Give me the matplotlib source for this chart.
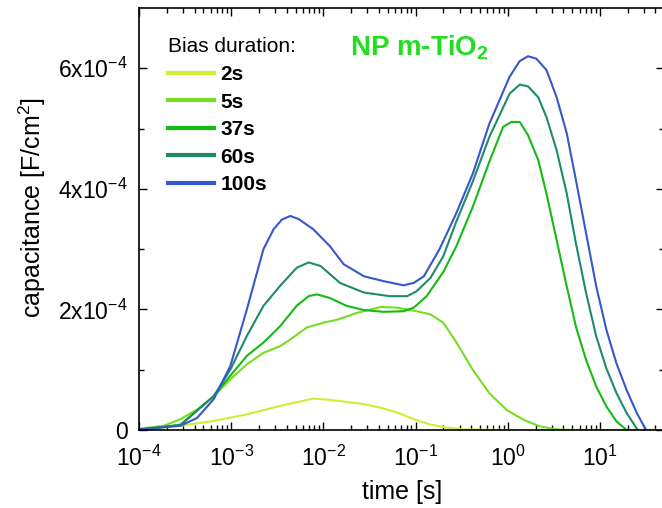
import matplotlib
matplotlib.use('Agg')
import numpy as np
import matplotlib.pyplot as plt
from matplotlib.ticker import FixedLocator, FixedFormatter, LogLocator, NullFormatter

plt.rcParams['font.family'] = ['Liberation Sans', 'DejaVu Sans']
plt.rcParams['mathtext.fontset'] = 'custom'
plt.rcParams['mathtext.rm'] = 'Liberation Sans'
plt.rcParams['mathtext.it'] = 'Liberation Sans:italic'
plt.rcParams['mathtext.bf'] = 'Liberation Sans:bold'
plt.rcParams['mathtext.default'] = 'regular'

# log10 of time [s] and capacitance in units of 1e-4 F/cm^2
logt_2s = [-4.0, -3.55, -3.19, -2.83, -2.47, -2.29, -2.11, -1.93, -1.56, -1.38,
           -1.20, -1.02, -0.84, -0.66, -0.48, 0.0, 1.0, 1.6]
cap_2s = [0.0, 0.07, 0.15, 0.26, 0.40, 0.46, 0.52, 0.50, 0.43, 0.37,
          0.29, 0.18, 0.09, 0.04, 0.01, 0.0, 0.0, 0.0]

logt_5s = [-4.0, -3.73, -3.55, -3.37, -3.19, -3.01, -2.83, -2.65, -2.47, -2.36,
           -2.18, -2.0, -1.85, -1.64, -1.38, -1.20, -0.99, -0.84, -0.70, -0.56,
           -0.38, -0.20, -0.01, 0.17, 0.35, 0.53, 0.71, 1.6]
cap_5s = [0.02, 0.07, 0.18, 0.34, 0.56, 0.84, 1.09, 1.28, 1.39, 1.50,
          1.70, 1.78, 1.83, 1.94, 2.04, 2.03, 1.97, 1.92, 1.78, 1.46,
          1.00, 0.61, 0.33, 0.17, 0.06, 0.01, 0.0, 0.0]

logt_37s = [-4.0, -3.55, -3.19, -3.01, -2.83, -2.65, -2.47, -2.29, -2.16, -2.07,
            -1.93, -1.75, -1.56, -1.35, -1.13, -1.02, -0.88, -0.70, -0.56, -0.38,
            -0.20, -0.05, 0.04, 0.13, 0.22, 0.33, 0.42, 0.53, 0.64, 0.74,
            0.85, 0.96, 1.07, 1.18, 1.29]
cap_37s = [0.0, 0.09, 0.56, 0.90, 1.23, 1.45, 1.72, 2.06, 2.22, 2.25,
           2.19, 2.06, 1.99, 1.96, 1.97, 2.03, 2.22, 2.62, 3.04, 3.70,
           4.45, 5.03, 5.11, 5.11, 4.89, 4.48, 3.92, 3.15, 2.38, 1.71,
           1.16, 0.72, 0.39, 0.14, 0.0]

logt_60s = [-4.0, -3.55, -3.19, -3.01, -2.83, -2.65, -2.47, -2.29, -2.16, -2.03,
            -1.82, -1.56, -1.28, -1.09, -0.99, -0.84, -0.70, -0.56, -0.38, -0.20,
            0.02, 0.13, 0.22, 0.33, 0.42, 0.53, 0.64, 0.74, 0.85, 0.96,
            1.07, 1.18, 1.29, 1.41]
cap_60s = [0.01, 0.08, 0.56, 1.00, 1.56, 2.06, 2.39, 2.69, 2.78, 2.72,
           2.44, 2.28, 2.22, 2.22, 2.30, 2.52, 2.88, 3.45, 4.12, 4.86,
           5.58, 5.73, 5.70, 5.52, 5.19, 4.64, 3.92, 3.09, 2.27, 1.55,
           1.02, 0.61, 0.28, 0.0]

logt_100s = [-4.0, -3.55, -3.37, -3.19, -3.01, -2.83, -2.65, -2.54, -2.45, -2.36,
             -2.27, -2.11, -1.93, -1.78, -1.56, -1.35, -1.13, -1.02, -0.91, -0.74,
             -0.56, -0.38, -0.20, 0.02, 0.13, 0.22, 0.31, 0.42, 0.53, 0.64,
             0.74, 0.85, 0.96, 1.07, 1.18, 1.29, 1.40, 1.50]
cap_100s = [0.01, 0.07, 0.20, 0.51, 1.06, 2.00, 3.00, 3.33, 3.49, 3.55,
            3.50, 3.33, 3.05, 2.75, 2.55, 2.47, 2.40, 2.44, 2.55, 3.00,
            3.59, 4.25, 5.08, 5.86, 6.12, 6.20, 6.16, 5.97, 5.52, 4.92,
            4.14, 3.26, 2.38, 1.66, 1.10, 0.66, 0.28, 0.0]

labels = ['2s', '5s', '37s', '60s', '100s']
colors = ['#cdef35', '#78dc24', '#14bb14', '#1f8a6c', '#3558cc']
series = [(logt_2s, cap_2s), (logt_5s, cap_5s), (logt_37s, cap_37s),
          (logt_60s, cap_60s), (logt_100s, cap_100s)]

yticks = [0, 2e-4, 4e-4, 6e-4]
yticklabels = ['0', '2x10$^{-4}$', '4x10$^{-4}$', '6x10$^{-4}$']

fig = plt.figure(figsize=(6.62, 5.08), dpi=100)
ax = fig.add_axes([139 / 662, 78 / 508, 525.4 / 662, 422 / 508])

for (lt, c), lab, col in zip(series, labels, colors):
    t = 10 ** np.array(lt)
    ax.plot(t, np.array(c) * 1e-4, color=col, lw=1.5, label=lab)

ax.set_xscale('log')
ax.set_xlim(1e-4, 50)
ax.set_ylim(0, 7e-4)

ax.yaxis.set_major_locator(FixedLocator(yticks))
ax.yaxis.set_major_formatter(FixedFormatter(yticklabels))
ax.yaxis.set_minor_locator(FixedLocator([1e-4, 3e-4, 5e-4]))
ax.xaxis.set_major_locator(LogLocator(base=10, numticks=12))
ax.xaxis.set_minor_locator(LogLocator(base=10, subs=np.arange(2, 10), numticks=12))
ax.xaxis.set_minor_formatter(NullFormatter())

ax.tick_params(which='both', direction='in', top=True, right=True, width=1)
ax.tick_params(which='major', length=6, labelsize=16.5)
ax.tick_params(axis='y', which='major', pad=8)
ax.tick_params(axis='x', which='major', pad=11)
ax.tick_params(which='minor', length=3.5)
for sp in ax.spines.values():
    sp.set_linewidth(1.2)

ax.set_xlabel('time [s]', fontsize=18, labelpad=7)
ax.set_ylabel('capacitance [F/cm$^2$]', fontsize=18)
ax.yaxis.set_label_coords(-0.173, 0.526)

ax.text(350 / 662, 1 - 55 / 508, 'NP m-TiO$_2$', transform=fig.transFigure,
        fontsize=20, fontweight='bold', color='#22dd22')

leg = ax.legend(title='Bias duration:', loc='upper left',
                bbox_to_anchor=(158 / 662, 1 - 27 / 508),
                bbox_transform=fig.transFigure, frameon=False,
                prop={'size': 15, 'weight': 'bold'}, title_fontsize=15,
                handlelength=2.2, handletextpad=0.3, labelspacing=0.41,
                borderpad=0, alignment='left')
for h in leg.get_lines():
    h.set_linewidth(3)

fig.savefig('out.png', dpi=100)
